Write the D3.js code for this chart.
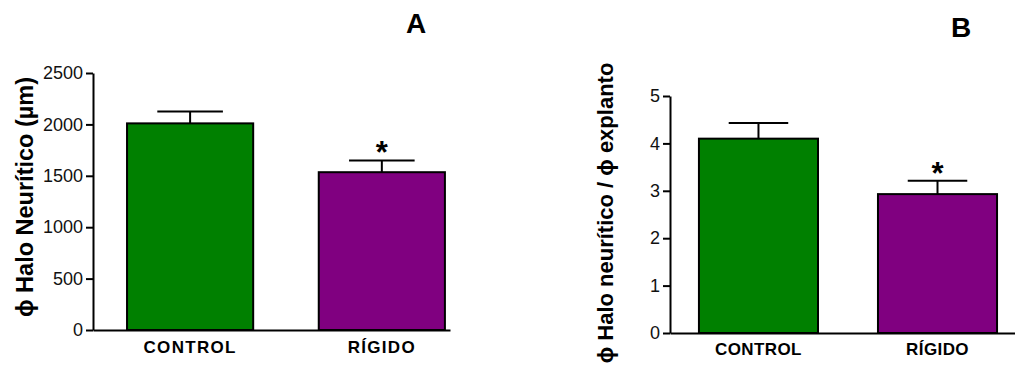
<!DOCTYPE html>
<html>
<head>
<meta charset="utf-8">
<script src="https://cdn.jsdelivr.net/npm/d3@7"></script>
<style>
  body { margin: 0; background: #fff; }
  text { font-family: Arial, "Liberation Sans", sans-serif; }
</style>
</head>
<body>
<div id="chart"></div>
<script>
// data
var categories = ["CONTROL", "RÍGIDO"];
var colors = ["#008000", "#800080"];

var haloMean = [2010, 1535];
var haloErr = [115, 115];
var haloTicks = [0, 500, 1000, 1500, 2000, 2500];

var ratioMean = [4.1, 2.93];
var ratioErr = [0.33, 0.28];
var ratioTicks = [0, 1, 2, 3, 4, 5];

var signif = ["", "*"];

var svg = d3.select("#chart")
  .append("svg")
    .attr("width", 1015)
    .attr("height", 367);

function drawPanel(opt) {
  var g = svg.append("g");

  var x = d3.scaleBand()
    .domain(categories)
    .range([opt.left, opt.right])
    .paddingInner(opt.padIn)
    .paddingOuter(opt.padOut)
    .align(opt.align);

  var y = d3.scaleLinear()
    .domain(opt.domain)
    .range([opt.bottom, opt.top]);

  // bars
  g.selectAll("rect.bar")
    .data(opt.mean)
    .enter()
    .append("rect")
      .attr("class", "bar")
      .attr("x", function(d, i) { return x(categories[i]); })
      .attr("y", function(d) { return y(d); })
      .attr("width", x.bandwidth())
      .attr("height", function(d) { return y(0) - y(d); })
      .attr("fill", function(d, i) { return colors[i]; })
      .attr("stroke", "#000")
      .attr("stroke-width", 2);

  // error bars (upper only)
  var capW = x.bandwidth() * opt.cap;
  opt.mean.forEach(function(m, i) {
    var cx = x(categories[i]) + x.bandwidth() / 2;
    g.append("line")
      .attr("x1", cx).attr("x2", cx)
      .attr("y1", y(m)).attr("y2", y(m + opt.err[i]))
      .attr("stroke", "#000").attr("stroke-width", 2);
    g.append("line")
      .attr("x1", cx - capW / 2).attr("x2", cx + capW / 2)
      .attr("y1", y(m + opt.err[i])).attr("y2", y(m + opt.err[i]))
      .attr("stroke", "#000").attr("stroke-width", 2);
    if (signif[i]) {
      g.append("text")
        .attr("x", cx)
        .attr("y", y(m + opt.err[i]) + 3)
        .attr("text-anchor", "middle")
        .style("font-size", "31px")
        .style("font-weight", "bold")
        .text(signif[i]);
    }
  });

  // y axis
  var yAxis = g.append("g")
    .attr("transform", "translate(" + opt.left + ",0)")
    .call(d3.axisLeft(y).tickValues(opt.ticks).tickFormat(d3.format("d"))
      .tickSize(7).tickPadding(3).tickSizeOuter(0));
  yAxis.select(".domain").attr("stroke-width", 2);
  yAxis.selectAll(".tick line").attr("stroke-width", 2);
  yAxis.selectAll("text")
    .style("font-size", "18px")
    .attr("fill", "#111");

  // x axis
  var xAxis = g.append("g")
    .attr("transform", "translate(0," + opt.bottom + ")")
    .call(d3.axisBottom(x).tickSize(0).tickPadding(opt.catPad).tickSizeOuter(0));
  xAxis.select(".domain").attr("stroke-width", 2);
  xAxis.selectAll("text")
    .style("font-size", "17px")
    .style("font-weight", "bold")
    .style("letter-spacing", opt.spacing)
    .attr("fill", "#000");

  // y label
  g.append("text")
    .attr("transform", "translate(" + opt.labX + "," + opt.labY + ") rotate(-90)")
    .attr("text-anchor", "middle")
    .style("font-size", opt.labSize)
    .style("font-weight", "bold")
    .text(opt.label);

  // panel letter
  g.append("text")
    .attr("x", opt.letX)
    .attr("y", opt.letY)
    .attr("text-anchor", "middle")
    .style("font-size", "28px")
    .style("font-weight", "bold")
    .text(opt.letter);
}

drawPanel({
  left: 93, right: 450, top: 73, bottom: 330,
  padIn: 0.342, padOut: 0.102, align: 0.87,
  domain: [0, 2500], ticks: haloTicks,
  mean: haloMean, err: haloErr, cap: 0.52,
  catPad: 11, spacing: "1.3px",
  label: "ϕ Halo Neurítico (µm)", labX: 33, labY: 197, labSize: "23.5px",
  letter: "A", letX: 416, letY: 33
});

drawPanel({
  left: 670, right: 1015, top: 96, bottom: 333,
  padIn: 0.335, padOut: 0.131, align: 0.617,
  domain: [0, 5], ticks: ratioTicks,
  mean: ratioMean, err: ratioErr, cap: 0.5,
  catPad: 10, spacing: "0.4px",
  label: "ϕ Halo neurítico / ϕ explanto", labX: 613, labY: 213, labSize: "22px",
  letter: "B", letX: 961, letY: 37
});
</script>
</body>
</html>
